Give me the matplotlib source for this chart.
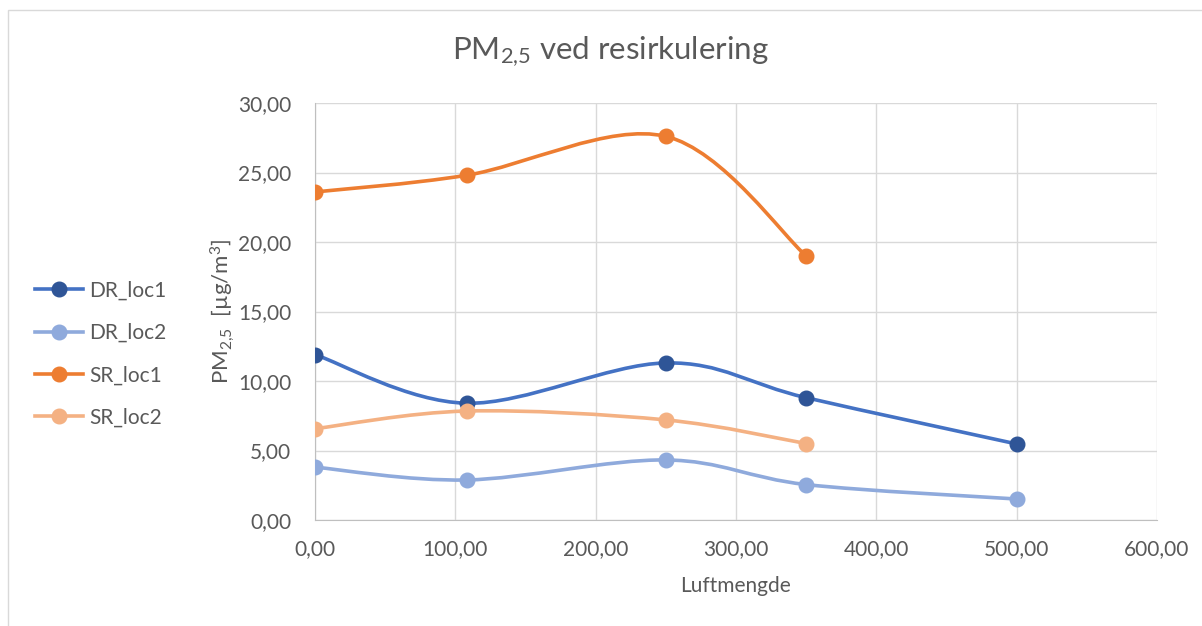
import numpy as np
import matplotlib
matplotlib.use("Agg")
import matplotlib.pyplot as plt
from matplotlib.path import Path
from matplotlib.patches import PathPatch, Rectangle
from matplotlib.lines import Line2D

plt.rcParams['font.family'] = ['Lato', 'DejaVu Sans']
plt.rcParams['mathtext.fontset'] = 'custom'
plt.rcParams['mathtext.rm'] = 'Lato'
plt.rcParams['mathtext.it'] = 'Lato'
plt.rcParams['mathtext.bf'] = 'Lato'

series_names = ["DR_loc1", "DR_loc2", "SR_loc1", "SR_loc2"]
x_dr = [0, 108, 250, 350, 500]
x_sr = [0, 108, 250, 350]
dr_loc1 = [11.9, 8.4, 11.3, 8.8, 5.47]
dr_loc2 = [3.8, 2.88, 4.32, 2.55, 1.51]
sr_loc1 = [23.6, 24.8, 27.6, 19.0]
sr_loc2 = [6.57, 7.84, 7.2, 5.5]
x_ticks = [0, 100, 200, 300, 400, 500, 600]
y_ticks = [0, 5, 10, 15, 20, 25, 30]

line_colors = ["#4472C4", "#8FAADC", "#ED7D31", "#F4B183"]
marker_colors = ["#2F5597", "#8FAADC", "#ED7D31", "#F4B183"]

fig = plt.figure(figsize=(12.02, 6.26), dpi=100)
fig.patches.append(Rectangle((8/1202, -0.01), 1.02, 1 - 10/626 + 0.01, transform=fig.transFigure,
                             fill=False, edgecolor="#D9D9D9", linewidth=1))
ax = fig.add_axes([315/1202, 1 - 520/626, (1157-315)/1202, (520-103)/626])

def smooth_path(xs, ys):
    xs = np.asarray(xs, float); ys = np.asarray(ys, float)
    n = len(xs)
    verts = [(xs[0], ys[0])]
    codes = [Path.MOVETO]
    for i in range(n - 1):
        p0 = np.array([xs[max(i-1, 0)], ys[max(i-1, 0)]])
        p1 = np.array([xs[i], ys[i]])
        p2 = np.array([xs[i+1], ys[i+1]])
        p3 = np.array([xs[min(i+2, n-1)], ys[min(i+2, n-1)]])
        c1 = p1 + (p2 - p0) / 6.0
        c2 = p2 - (p3 - p1) / 6.0
        verts += [tuple(c1), tuple(c2), tuple(p2)]
        codes += [Path.CURVE4] * 3
    return Path(verts, codes)

data = [(x_dr, dr_loc1), (x_dr, dr_loc2), (x_sr, sr_loc1), (x_sr, sr_loc2)]
for (xs, ys), lc, mc in zip(data, line_colors, marker_colors):
    ax.add_patch(PathPatch(smooth_path(xs, ys), facecolor="none", edgecolor=lc,
                           linewidth=2.6, zorder=3, capstyle='round', joinstyle='round'))
    ax.plot(xs, ys, linestyle="none", marker="o", markersize=10.5, color=mc, zorder=4)

ax.set_xlim(0, 600)
ax.set_ylim(0, 30)
ax.set_xticks(x_ticks)
ax.set_yticks(y_ticks)
ax.set_xticklabels([f"{v:.2f}".replace(".", ",") for v in x_ticks])
ax.set_yticklabels([f"{v:.2f}".replace(".", ",") for v in y_ticks])
ax.grid(True, color="#D9D9D9", linewidth=1)
ax.set_axisbelow(True)
for s in ["top", "right"]:
    ax.spines[s].set_visible(False)
ax.spines["left"].set_color("#BFBFBF")
ax.spines["bottom"].set_color("#BFBFBF")
ax.tick_params(length=0, labelsize=15, colors="#595959", pad=14)
ax.tick_params(axis='y', pad=17)
ax.set_xlabel("Luftmengde", fontsize=15, color="#595959", labelpad=12)
ax.set_ylabel(r"PM$_{2{,}5}$  [µg/m$^{3}$]", fontsize=16, color="#595959", labelpad=1)

fig.text(610/1202, 1 - 52/626, r"PM$_{2{,}5}$ ved resirkulering", fontsize=22.5,
         color="#595959", ha="center", va="center")

handles = [Line2D([], [], color=lc, marker="o", markersize=10.5, markerfacecolor=mc,
                  markeredgecolor=mc, linewidth=2.6) for lc, mc in zip(line_colors, marker_colors)]
leg = fig.legend(handles, series_names, loc="upper left", bbox_to_anchor=(16/1202, 1 - 262/626),
                 frameon=False, fontsize=15, labelspacing=1.07, handlelength=2.3,
                 handletextpad=0.3)
for t in leg.get_texts():
    t.set_color("#595959")

fig.savefig("out.png", dpi=100)
